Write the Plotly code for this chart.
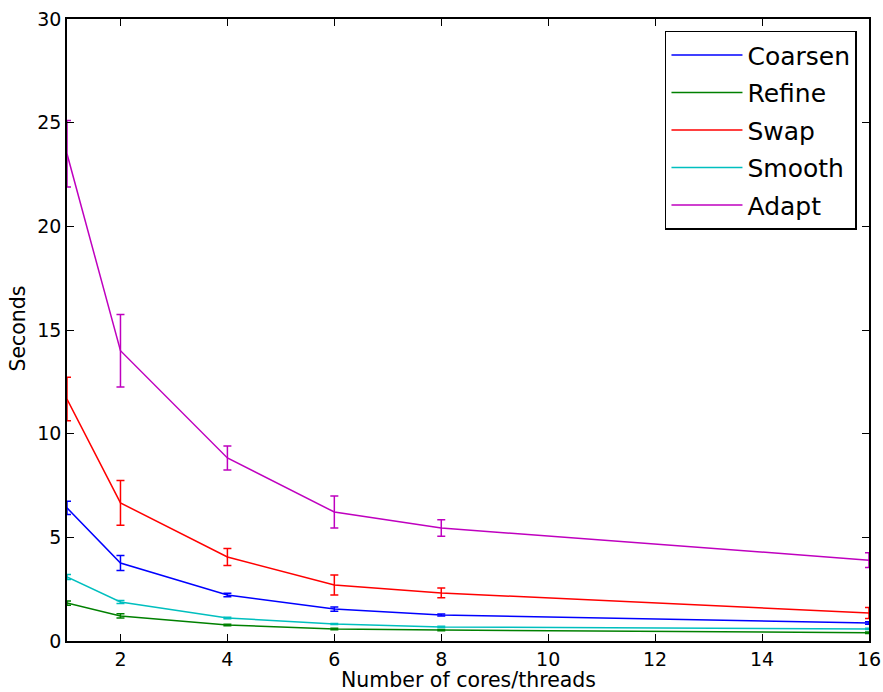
import plotly.graph_objects as go

cores = [1, 2, 4, 6, 8, 16]

coarsen = [6.42, 3.76, 2.22, 1.54, 1.25, 0.87]
coarsen_err = [0.32, 0.36, 0.08, 0.10, 0.05, 0.06]
refine = [1.83, 1.21, 0.77, 0.58, 0.53, 0.40]
refine_err = [0.10, 0.10, 0.04, 0.04, 0.03, 0.04]
swap = [11.67, 6.66, 4.05, 2.70, 2.32, 1.35]
swap_err = [1.05, 1.08, 0.41, 0.48, 0.24, 0.26]
smooth = [3.09, 1.88, 1.11, 0.82, 0.68, 0.58]
smooth_err = [0.12, 0.07, 0.04, 0.03, 0.03, 0.03]
adapt = [23.5, 14.0, 8.83, 6.22, 5.45, 3.9]
adapt_err = [1.6, 1.75, 0.58, 0.77, 0.40, 0.36]

names = ["Coarsen", "Refine", "Swap", "Smooth", "Adapt"]
colors = ["#0000ff", "#008000", "#ff0000", "#00bfbf", "#bf00bf"]
series = [coarsen, refine, swap, smooth, adapt]
errors = [coarsen_err, refine_err, swap_err, smooth_err, adapt_err]

x_title = "Number of cores/threads"
y_title = "Seconds"

fig = go.Figure()
for n, c, s, e in zip(names, colors, series, errors):
    fig.add_trace(go.Scatter(
        x=cores, y=s, name=n, mode="lines", legendgroup=n,
        line=dict(color=c, width=1.5),
        error_y=dict(type="data", array=e, visible=True, color=c, thickness=1.5, width=4),
    ))

axis_common = dict(
    showgrid=False, zeroline=False, showline=True, linecolor="black", linewidth=1.5,
    mirror="ticks", ticks="inside", ticklen=7, tickwidth=1, tickcolor="black",
    tickfont=dict(family="DejaVu Sans", size=19, color="black"),
    automargin=False, ticklabeloverflow="allow",
)

fig.update_xaxes(range=[1, 16], tickvals=[2, 4, 6, 8, 10, 12, 14, 16], **axis_common)
fig.update_yaxes(range=[0, 30], tickvals=[0, 5, 10, 15, 20, 25, 30], **axis_common)

title_font = dict(family="DejaVu Sans", size=20.5, color="black")
fig.add_annotation(text=x_title, xref="paper", yref="paper", x=0.5, y=-0.0635,
                   xanchor="center", yanchor="middle", showarrow=False, font=title_font,
                   borderpad=0)
fig.add_annotation(text=y_title, xref="paper", yref="paper", x=-0.0605, y=0.503,
                   xanchor="center", yanchor="middle", showarrow=False, textangle=-90,
                   font=title_font, borderpad=0)

fig.update_layout(
    width=883, height=692,
    margin=dict(l=67, r=14, t=19, b=51),
    paper_bgcolor="white", plot_bgcolor="white",
    font=dict(family="DejaVu Sans", color="black"),
    legend=dict(
        x=0.985, y=0.981, xanchor="right", yanchor="top",
        bgcolor="white", bordercolor="black", borderwidth=1.5,
        font=dict(family="DejaVu Sans", size=25, color="black"),
        tracegroupgap=2, itemwidth=71,
    ),
    showlegend=True,
)

fig.write_html("out.html", config={"displayModeBar": False},
               post_script="document.body.style.margin='0px';")
